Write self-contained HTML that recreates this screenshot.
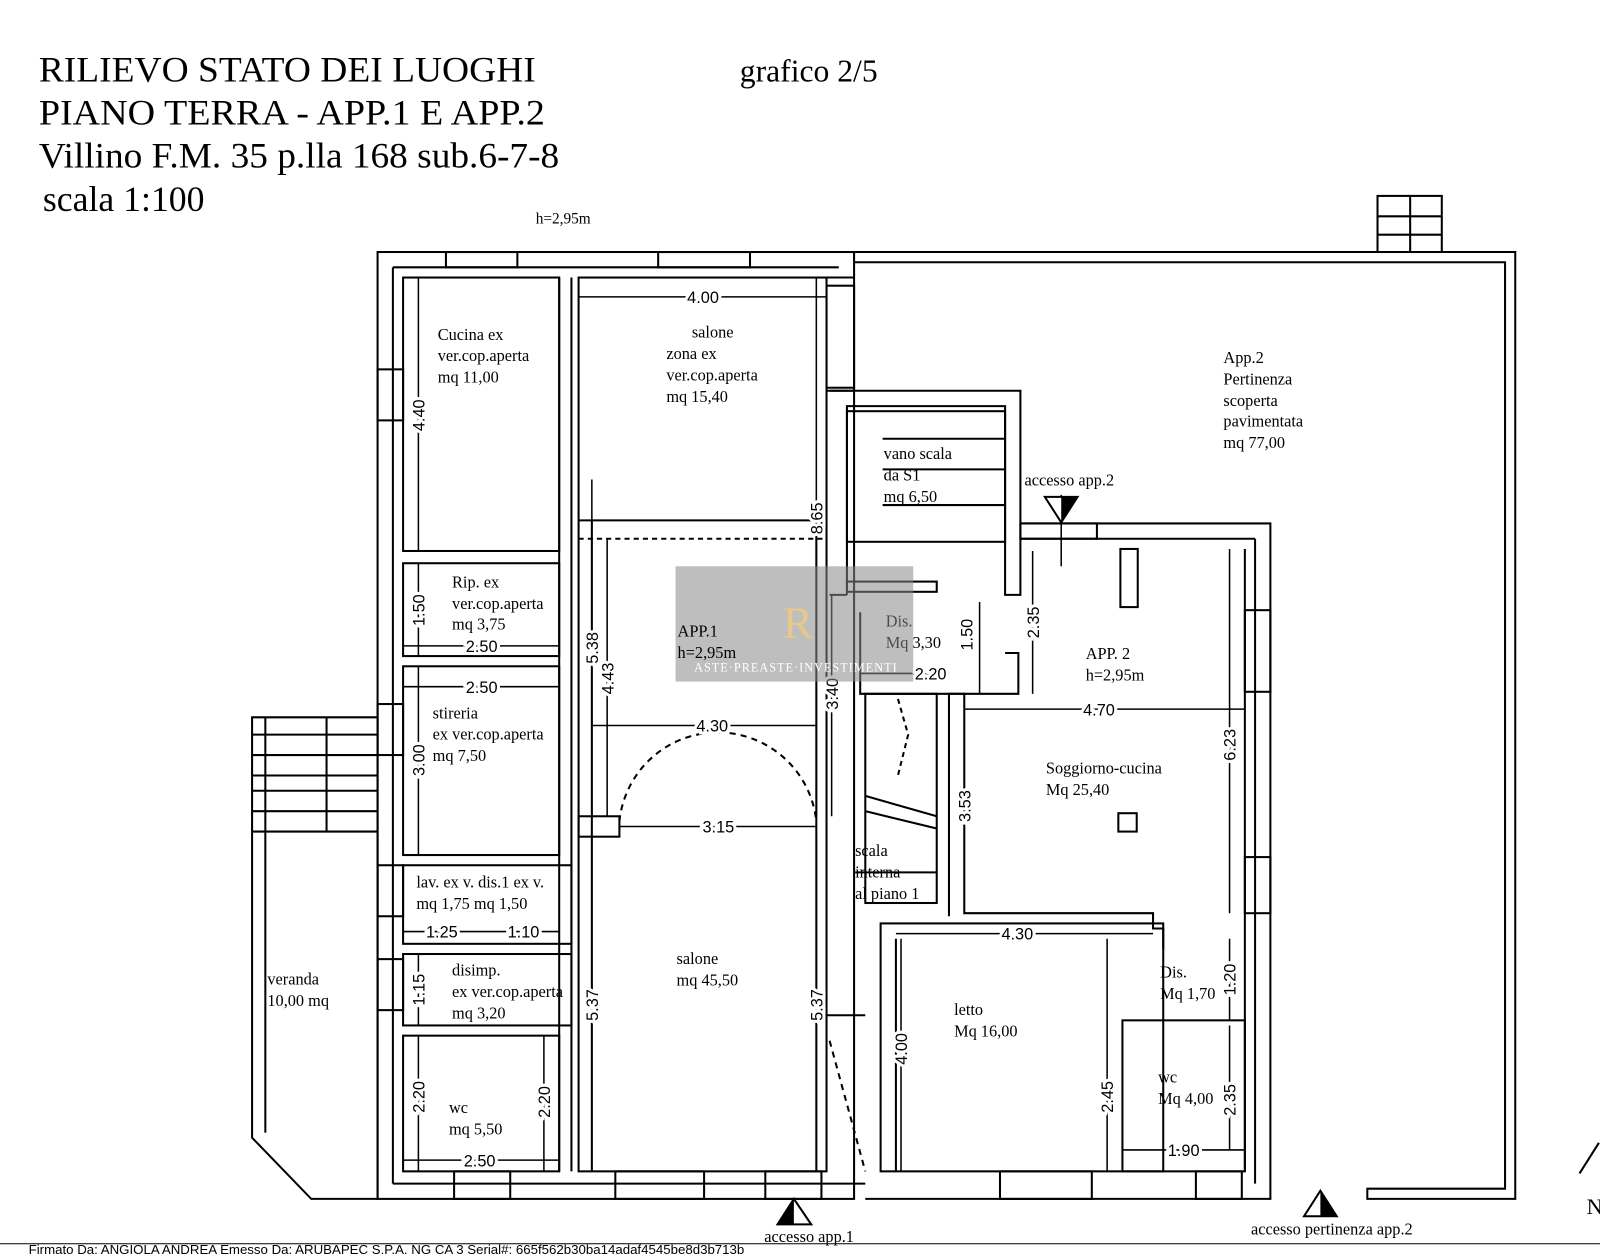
<!DOCTYPE html>
<html><head><meta charset="utf-8"><style>
html,body{margin:0;padding:0;background:#fff;width:1600px;height:1254px;overflow:hidden}
svg{display:block}
.t{font-family:"Liberation Serif",serif;font-size:16px;fill:#000}
.d{font-family:"Liberation Sans",sans-serif;font-size:16px;fill:#000}
.h{font-family:"Liberation Serif",serif;font-size:35px;fill:#000}
</style></head><body>
<svg width="1600" height="1254" viewBox="0 0 1568 1229" xmlns="http://www.w3.org/2000/svg">
<rect width="1568" height="1229" fill="#fff"/>
<text class="h" x="38" y="80" textLength="487" lengthAdjust="spacingAndGlyphs">RILIEVO STATO DEI LUOGHI</text>
<text class="h" x="38" y="122" textLength="496" lengthAdjust="spacingAndGlyphs">PIANO TERRA - APP.1 E APP.2</text>
<text class="h" x="38" y="164" textLength="510" lengthAdjust="spacingAndGlyphs">Villino F.M. 35 p.lla 168 sub.6-7-8</text>
<text class="h" x="42" y="207">scala 1:100</text>
<text class="h" x="725" y="80" style="font-size:31px">grafico 2/5</text>
<text class="t" x="525" y="219" style="font-size:15px">h=2,95m</text>

<g fill="none" stroke="#000" stroke-width="2">
<rect x="370" y="247" width="467" height="928"/>
<line x1="385" y1="262" x2="822" y2="262"/>
<line x1="385" y1="262" x2="385" y2="1160"/>
<line x1="385" y1="1160" x2="848" y2="1160"/>
<polyline points="837,247 1485,247 1485,1175 1340,1175 1340,1165 1475,1165 1475,257 837,257"/>
<rect x="1350" y="192" width="63" height="55"/>
<line x1="1350" y1="212" x2="1413" y2="212"/><line x1="1350" y1="230" x2="1413" y2="230"/><line x1="1382" y1="192" x2="1382" y2="247"/>
<rect x="395" y="272" width="153" height="268"/>
<rect x="395" y="552" width="153" height="91"/>
<rect x="395" y="653" width="153" height="185"/>
<rect x="395" y="848" width="165" height="77"/>
<rect x="395" y="935" width="165" height="70"/>
<rect x="395" y="1015" width="153" height="133"/>
<line x1="548" y1="272" x2="548" y2="1148"/>
<line x1="560" y1="272" x2="560" y2="1148"/>
<rect x="567" y="272" width="243" height="876"/>
<line x1="580" y1="510" x2="580" y2="1148"/>
<line x1="800" y1="510" x2="800" y2="1148"/>
<line x1="567" y1="510" x2="810" y2="510"/>
<line x1="567" y1="528" x2="810" y2="528" stroke-dasharray="5,4"/>
<rect x="567" y="800" width="40" height="20"/>
<line x1="810" y1="272" x2="837" y2="272"/>
<line x1="810" y1="383" x2="837" y2="383"/>
<path d="M607,805 A97,97 0 0 1 800,805" stroke-dasharray="6,5"/>
<polyline points="813,383 1000,383 1000,583 985,583 985,398 830,398 830,583"/>
<rect x="830" y="403" width="155" height="128"/>
<line x1="865" y1="430" x2="985" y2="430"/>
<line x1="865" y1="460" x2="985" y2="460"/>
<line x1="865" y1="495" x2="985" y2="495"/>
<line x1="813" y1="583" x2="830" y2="583"/>
<rect x="830" y="570" width="88" height="10"/>
<polyline points="843,600 843,680 998,680 998,640 985,640"/>
<rect x="848" y="680" width="70" height="205"/>
<line x1="848" y1="780" x2="918" y2="800"/>
<line x1="848" y1="795" x2="918" y2="812"/>
<line x1="838" y1="855" x2="918" y2="855"/>
<polyline points="880,685 890,720 880,760" stroke-dasharray="5,4"/>
<polyline points="1000,513 1245,513 1245,1175 848,1175"/>
<line x1="1000" y1="528" x2="1230" y2="528"/>
<line x1="1230" y1="528" x2="1230" y2="1160"/>
<line x1="1220" y1="538" x2="1220" y2="1148"/>
<polyline points="930,680 945,680 945,895 1130,895 1130,910 1140,910 1140,930"/>
<line x1="930" y1="680" x2="930" y2="898"/>
<rect x="1098" y="538" width="17" height="57"/>
<rect x="863" y="905" width="277" height="243"/>
<line x1="878" y1="920" x2="878" y2="1148"/>
<rect x="1100" y="1000" width="120" height="148"/>
<rect x="1096" y="797" width="18" height="18"/>
<line x1="810" y1="995" x2="848" y2="995"/>
<line x1="813" y1="1020" x2="848" y2="1148" stroke-dasharray="6,5"/>
<polygon points="247,703 370,703 370,1175 305,1175 247,1115"/>
<line x1="260" y1="703" x2="260" y2="1110"/>
<line x1="247" y1="720" x2="370" y2="720"/><line x1="247" y1="740" x2="370" y2="740"/>
<line x1="247" y1="760" x2="370" y2="760"/><line x1="247" y1="775" x2="370" y2="775"/>
<line x1="247" y1="795" x2="370" y2="795"/><line x1="247" y1="815" x2="370" y2="815"/>
<line x1="320" y1="703" x2="320" y2="815"/>
<rect x="437" y="247" width="70" height="15"/><rect x="645" y="247" width="90" height="15"/>
<rect x="370" y="362" width="25" height="50"/><rect x="370" y="690" width="25" height="50"/>
<rect x="370" y="848" width="25" height="50"/><rect x="370" y="940" width="25" height="50"/>
<rect x="445" y="1148" width="55" height="27"/><rect x="603" y="1148" width="87" height="27"/>
<rect x="750" y="1148" width="55" height="27"/><rect x="980" y="1148" width="90" height="27"/>
<rect x="1172" y="1148" width="45" height="27"/><rect x="1220" y="598" width="25" height="80"/>
<rect x="1220" y="840" width="25" height="55"/><rect x="1000" y="513" width="75" height="15"/>
<rect x="810" y="280" width="27" height="100"/>
</g>
<g stroke="#000" stroke-width="1.5">
<line x1="567" y1="291" x2="810" y2="291"/><line x1="395" y1="633" x2="548" y2="633"/>
<line x1="395" y1="673" x2="548" y2="673"/><line x1="580" y1="711" x2="800" y2="711"/>
<line x1="607" y1="810" x2="800" y2="810"/><line x1="843" y1="660" x2="930" y2="660"/>
<line x1="945" y1="695" x2="1220" y2="695"/><line x1="878" y1="915" x2="1130" y2="915"/>
<line x1="395" y1="913" x2="548" y2="913"/><line x1="395" y1="1137" x2="548" y2="1137"/>
<line x1="1100" y1="1127" x2="1220" y2="1127"/>
<line x1="410" y1="272" x2="410" y2="540"/><line x1="410" y1="552" x2="410" y2="643"/>
<line x1="410" y1="653" x2="410" y2="838"/><line x1="410" y1="935" x2="410" y2="1005"/>
<line x1="410" y1="1015" x2="410" y2="1148"/><line x1="533" y1="1015" x2="533" y2="1148"/>
<line x1="580" y1="470" x2="580" y2="800"/><line x1="595" y1="528" x2="595" y2="800"/>
<line x1="580" y1="820" x2="580" y2="1148"/><line x1="800" y1="820" x2="800" y2="1148"/>
<line x1="800" y1="272" x2="800" y2="800"/><line x1="815" y1="583" x2="815" y2="800"/>
<line x1="945" y1="695" x2="945" y2="895"/><line x1="1205" y1="538" x2="1205" y2="895"/>
<line x1="1205" y1="920" x2="1205" y2="1000"/><line x1="1205" y1="1005" x2="1205" y2="1127"/>
<line x1="1085" y1="920" x2="1085" y2="1148"/><line x1="883" y1="920" x2="883" y2="1148"/>
<line x1="1012" y1="540" x2="1012" y2="680"/><line x1="960" y1="590" x2="960" y2="680"/>
<line x1="1040" y1="485" x2="1040" y2="555"/>
</g>
<g class="d" text-anchor="middle" style="paint-order:stroke;stroke:#fff;stroke-width:6px">
<text x="689" y="297">4.00</text>
<text x="472" y="639">2.50</text>
<text x="472" y="679">2.50</text>
<text x="698" y="717">4.30</text>
<text x="704" y="816">3.15</text>
<text x="912" y="666">2.20</text>
<text x="1077" y="701">4.70</text>
<text x="997" y="921">4.30</text>
<text x="433" y="919">1.25</text>
<text x="513" y="919">1.10</text>
<text x="470" y="1143">2.50</text>
<text x="1160" y="1133">1.90</text>
<text transform="translate(416,407) rotate(-90)">4.40</text>
<text transform="translate(416,598) rotate(-90)">1.50</text>
<text transform="translate(416,745) rotate(-90)">3.00</text>
<text transform="translate(416,970) rotate(-90)">1.15</text>
<text transform="translate(416,1075) rotate(-90)">2.20</text>
<text transform="translate(539,1080) rotate(-90)">2.20</text>
<text transform="translate(586,635) rotate(-90)">5.38</text>
<text transform="translate(601,665) rotate(-90)">4.43</text>
<text transform="translate(586,985) rotate(-90)">5.37</text>
<text transform="translate(806,985) rotate(-90)">5.37</text>
<text transform="translate(806,508) rotate(-90)">8.65</text>
<text transform="translate(821,680) rotate(-90)">3.40</text>
<text transform="translate(951,790) rotate(-90)">3.53</text>
<text transform="translate(1211,730) rotate(-90)">6.23</text>
<text transform="translate(1211,960) rotate(-90)">1.20</text>
<text transform="translate(1211,1078) rotate(-90)">2.35</text>
<text transform="translate(1091,1075) rotate(-90)">2.45</text>
<text transform="translate(889,1028) rotate(-90)">4.00</text>
<text transform="translate(1018,610) rotate(-90)">2.35</text>
<text transform="translate(953,622) rotate(-90)">1.50</text>
</g>
<g class="t">
<text x="429" y="333">Cucina ex</text><text x="429" y="354">ver.cop.aperta</text><text x="429" y="375">mq 11,00</text>
<text x="678" y="331">salone</text><text x="653" y="352">zona ex</text><text x="653" y="373">ver.cop.aperta</text><text x="653" y="394">mq  15,40</text>
<text x="443" y="576">Rip. ex</text><text x="443" y="597">ver.cop.aperta</text><text x="443" y="617">mq 3,75</text>
<text x="424" y="704">stireria</text><text x="424" y="725">ex ver.cop.aperta</text><text x="424" y="746">mq 7,50</text>
<text x="408" y="870">lav. ex v.  dis.1 ex v.</text><text x="408" y="891">mq 1,75   mq 1,50</text>
<text x="443" y="956">disimp.</text><text x="443" y="977">ex ver.cop.aperta</text><text x="443" y="998">mq 3,20</text>
<text x="440" y="1091">wc</text><text x="440" y="1112">mq 5,50</text>
<text x="262" y="965">veranda</text><text x="262" y="986">10,00 mq</text>
<text x="663" y="945">salone</text><text x="663" y="966">mq 45,50</text>
<text x="866" y="450">vano scala</text><text x="866" y="471">da S1</text><text x="866" y="492">mq 6,50</text>
<text x="868" y="614">Dis.</text><text x="868" y="635">Mq 3,30</text>
<text x="838" y="839">scala</text><text x="838" y="860">interna</text><text x="838" y="881">al piano 1</text>
<text x="1064" y="646">APP. 2</text><text x="1064" y="667">h=2,95m</text>
<text x="1025" y="758">Soggiorno-cucina</text><text x="1025" y="779">Mq 25,40</text>
<text x="935" y="995">letto</text><text x="935" y="1016">Mq 16,00</text>
<text x="1137" y="958">Dis.</text><text x="1137" y="979">Mq 1,70</text>
<text x="1135" y="1061">wc</text><text x="1135" y="1082">Mq 4,00</text>
<text x="1199" y="356">App.2</text><text x="1199" y="377">Pertinenza</text><text x="1199" y="398">scoperta</text><text x="1199" y="418">pavimentata</text><text x="1199" y="439">mq 77,00</text>
<text x="1004" y="476">accesso app.2</text>
<text x="749" y="1217">accesso app.1</text>
<text x="1226" y="1210">accesso pertinenza app.2</text>
</g>
<polygon points="1024,487 1056,487 1040,512" fill="#fff" stroke="#000" stroke-width="2"/>
<polygon points="1040,487 1056,487 1040,512" fill="#000"/>
<polygon points="762,1200 795,1200 778,1175" fill="#fff" stroke="#000" stroke-width="2"/>
<polygon points="762,1200 778,1200 778,1175" fill="#000"/>
<polygon points="1278,1192 1310,1192 1294,1167" fill="#fff" stroke="#000" stroke-width="2"/>
<polygon points="1294,1192 1310,1192 1294,1167" fill="#000"/>
<text x="1555" y="1190" class="t" style="font-size:22px">N</text>
<line x1="1548" y1="1150" x2="1567" y2="1120" stroke="#000" stroke-width="2"/>
<rect x="662" y="555" width="233" height="113" fill="#888" fill-opacity="0.55"/>
<text x="780" y="658" text-anchor="middle" class="t" style="font-size:12px;fill:#fff;letter-spacing:1px">ASTE·PREASTE·INVESTIMENTI</text>
<text x="782" y="625" text-anchor="middle" class="t" style="font-size:44px;fill:#e8c98a">R</text>
<text x="664" y="624" class="t">APP.1</text>
<text x="664" y="645" class="t">h=2,95m</text>
<line x1="0" y1="1219" x2="1568" y2="1219" stroke="#000" stroke-width="1"/>
<text x="28" y="1229" style="font-family:'Liberation Sans',sans-serif;font-size:13px">Firmato Da: ANGIOLA ANDREA Emesso Da: ARUBAPEC S.P.A. NG CA 3 Serial#: 665f562b30ba14adaf4545be8d3b713b</text>
</svg>
</body></html>
